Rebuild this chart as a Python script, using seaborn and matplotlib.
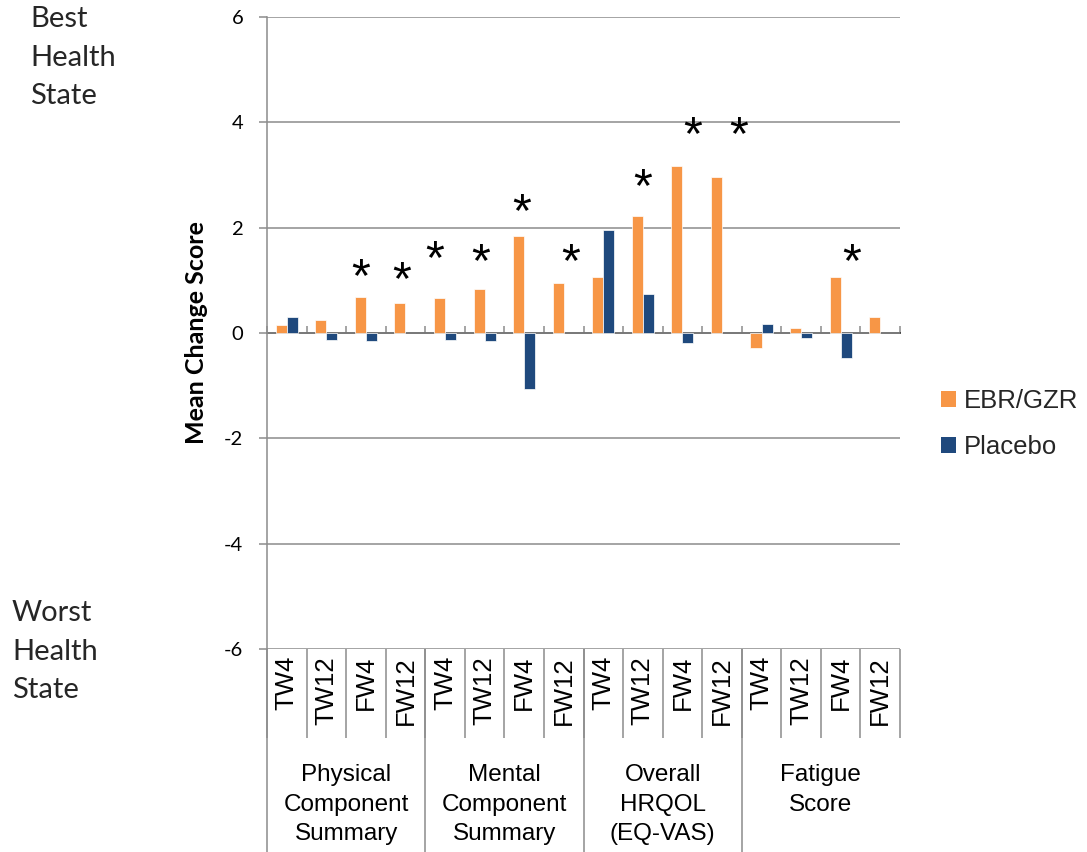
import numpy as np
import pandas as pd
import matplotlib
matplotlib.use("Agg")
import matplotlib.pyplot as plt
import seaborn as sns
from matplotlib.patches import Patch

# ---------------- data ----------------
groups = ["Physical\nComponent\nSummary", "Mental\nComponent\nSummary",
          "Overall\nHRQOL\n(EQ-VAS)", "Fatigue\nScore"]
timepoints = ["TW4", "TW12", "FW4", "FW12"]
series = ["EBR/GZR", "Placebo"]
ebr_gzr = [0.15, 0.25, 0.69, 0.57, 0.66, 0.84, 1.85, 0.94,
           1.06, 2.22, 3.18, 2.97, -0.29, 0.10, 1.06, 0.30]
placebo = [0.30, -0.14, -0.16, np.nan, -0.13, -0.16, -1.06, np.nan,
           1.96, 0.75, -0.19, np.nan, 0.18, -0.09, -0.47, np.nan]
star_categories = [2, 3, 4, 5, 6, 7, 9, 10, 11, 14]
star_heights = [1.20, 1.14, 1.54, 1.48, 2.43, 1.48, 2.90, 3.89, 3.89, 1.48]
star_offsets = [-0.13, -0.09, -0.27, -0.10, -0.06, 0.18, 0.0, 0.25, 0.42, 0.29]
yticks = [-6, -4, -2, 0, 2, 4, 6]

colors = ["#F79646", "#1F497D"]
grid_color = "#8c8c8c"

# ---------------- build table ----------------
keys = [f"{g}|{t}" for g in groups for t in timepoints]
rows = []
for k, a, b in zip(keys, ebr_gzr, placebo):
    rows.append({"key": k, "series": series[0], "value": a})
    rows.append({"key": k, "series": series[1], "value": b})
df = pd.DataFrame(rows).dropna()

sns.set_theme(style="white")
plt.rcParams["font.family"] = ["Liberation Sans", "DejaVu Sans"]
plt.rcParams["axes.unicode_minus"] = False

fig = plt.figure(figsize=(10.87, 8.52), dpi=100)
ax = fig.add_axes([267 / 1087, (852 - 649) / 852, 633 / 1087, 632 / 852])

sns.barplot(data=df, x="key", y="value", hue="series", order=keys,
            hue_order=series, palette=colors, saturation=1, width=0.56,
            errorbar=None, edgecolor="white", linewidth=0.5, ax=ax,
            legend=False, zorder=3)

ax.set_xlim(-0.5, len(keys) - 0.5)
ax.set_ylim(-6, 6)
ax.set_axisbelow(True)

# y axis
ax.set_yticks(yticks)
ax.set_yticklabels([str(v) for v in yticks], family=["Lato", "DejaVu Sans"],
                   fontsize=14.5, color="black")
ax.tick_params(axis="y", length=6, width=1.1, color=grid_color, pad=11, left=True)
ax.yaxis.grid(True, color=grid_color, linewidth=1.1)
ax.xaxis.grid(False)
ax.set_ylabel("Mean Change Score", family=["Lato", "DejaVu Sans"],
              fontsize=18, fontweight="bold", color="black")
ax.yaxis.set_label_coords(-0.093, 0.5)
ax.set_xlabel("")

for s in ["top", "right", "bottom"]:
    ax.spines[s].set_visible(False)
ax.spines["left"].set_color(grid_color)
ax.spines["left"].set_linewidth(1.1)

# x axis: time-point labels and short separators
ax.set_xticks(range(len(keys)))
ax.set_xticklabels(timepoints * len(groups), rotation=90, fontsize=18.5, color="black")
ax.tick_params(axis="x", which="major", length=0, pad=5, bottom=True)
bounds = np.arange(-0.5, len(keys), 1.0)
ax.set_xticks(bounds, minor=True)
ax.tick_params(axis="x", which="minor", length=64, width=1.1, color=grid_color, bottom=True)

# long group separators
sec = ax.secondary_xaxis("bottom")
sec.set_xticks([-0.5 + 4 * i for i in range(len(groups))])
sec.set_xticklabels([])
sec.tick_params(axis="x", length=146, width=1.1, color=grid_color)
sec.spines["bottom"].set_visible(False)

# zero-line tick marks
zero = ax.secondary_xaxis(0.5)
zero.set_xticks(bounds)
zero.set_xticklabels([])
zero.tick_params(axis="x", length=5, width=1.1, color=grid_color, direction="out")
zero.spines["bottom"].set_color(grid_color)
zero.spines["bottom"].set_linewidth(1.1)

# group labels
trans = ax.get_xaxis_transform()
for i, g in enumerate(groups):
    ax.text(4 * i + 1.5, -0.182, g, transform=trans, ha="center", va="top",
            fontsize=17.5, linespacing=1.44, color="black")

# significance asterisks
for c, h, o in zip(star_categories, star_heights, star_offsets):
    ax.annotate("*", (c + o, h), xytext=(0, -6), textcoords="offset points",
                ha="center", va="center", fontsize=35, color="black", zorder=4)

# legend
handles = [Patch(facecolor=colors[0], edgecolor="none"),
           Patch(facecolor=colors[1], edgecolor="none")]
ax.legend(handles, series, loc="center left", bbox_to_anchor=(1.064, 0.356),
          frameon=False, fontsize=18.5, handlelength=0.6, handleheight=0.6,
          handletextpad=0.3, labelspacing=0.87, borderpad=0, borderaxespad=0)

# left side annotations
fig.text(30 / 1087, 1 - 6 / 852, "Best\nHealth\nState", ha="left", va="top",
         family=["Lato", "DejaVu Sans"], fontsize=21, linespacing=1.6)
fig.text(12 / 1087, 1 - 600 / 852, "Worst\nHealth\nState", ha="left", va="top",
         family=["Lato", "DejaVu Sans"], fontsize=21, linespacing=1.6)

fig.savefig("out.png", dpi=100, facecolor="white")
